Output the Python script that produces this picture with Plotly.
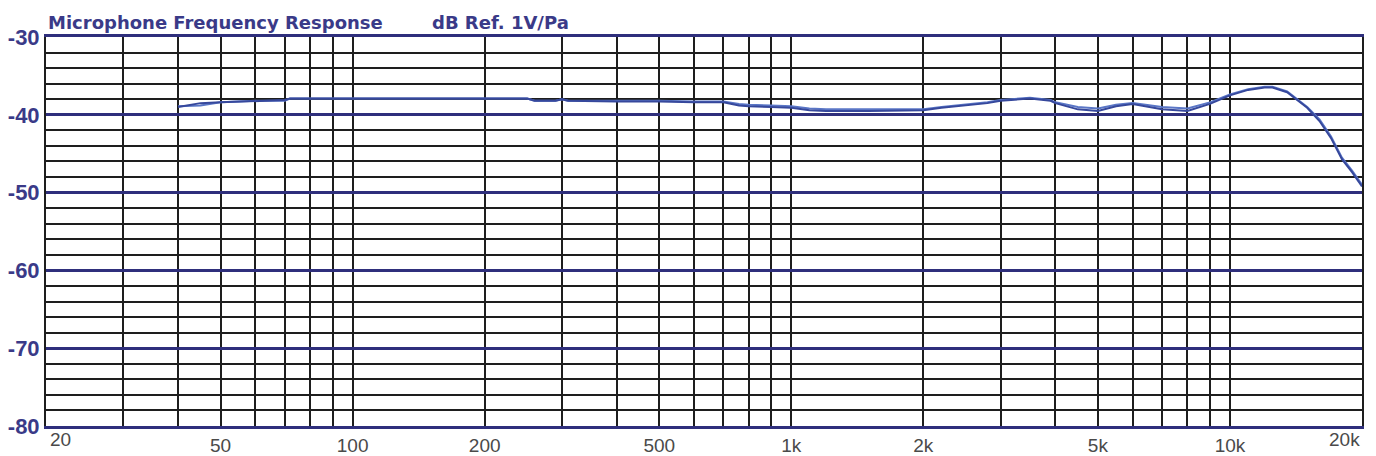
"""Microphone frequency response chart (log frequency axis, dB Ref. 1V/Pa)."""

import math

import plotly.graph_objects as go

# frequency points (Hz)
freq_hz = [
    40, 45, 50, 55, 60, 70, 72, 100, 150, 200, 250, 260, 290, 300, 310,
    400, 500, 600, 700, 760, 800, 900, 1000, 1100, 1200, 1500, 2000, 2200,
    2500, 2800, 3000, 3300, 3500, 3900, 4000, 4500, 5000, 5500, 6000, 7000,
    8000, 9000, 10000, 11000, 12000, 12500, 13500, 15000, 16000, 17000,
    18000, 19000, 20000,
]

# two overlapping measurement traces (dB)
resp_a_db = [
    -38.9, -38.8, -38.4, -38.3, -38.2, -38.2, -37.9, -37.9, -37.9, -37.9,
    -37.9, -38.2, -38.2, -38.0, -38.2, -38.2, -38.2, -38.3, -38.3, -38.6,
    -38.7, -38.8, -38.9, -39.2, -39.3, -39.3, -39.3, -39.0, -38.7, -38.4,
    -38.1, -37.9, -37.8, -38.1, -38.4, -39.0, -39.2, -38.7, -38.5, -39.0,
    -39.2, -38.4, -37.4, -36.7, -36.4, -36.4, -37.0, -39.0, -40.6, -42.8,
    -45.5, -47.2, -49.0,
]
resp_b_db = [
    -39.0, -38.5, -38.4, -38.3, -38.2, -38.1, -37.9, -37.9, -37.9, -37.9,
    -37.9, -38.2, -38.2, -38.0, -38.2, -38.3, -38.3, -38.4, -38.4, -38.8,
    -38.9, -39.0, -39.1, -39.4, -39.5, -39.5, -39.4, -39.1, -38.8, -38.5,
    -38.2, -38.0, -37.9, -38.2, -38.5, -39.3, -39.5, -38.9, -38.6, -39.3,
    -39.5, -38.6, -37.5, -36.8, -36.5, -36.5, -37.1, -39.1, -40.8, -43.0,
    -45.7, -47.4, -49.2,
]

# vertical grid positions and their labels
x_grid_hz = [
    20, 30, 40, 50, 60, 70, 80, 90,
    100, 200, 300, 400, 500, 600, 700, 800, 900,
    1000, 2000, 3000, 4000, 5000, 6000, 7000, 8000, 9000,
    10000, 20000,
]
x_labels = {50: "50", 100: "100", 200: "200", 500: "500", 1000: "1k",
            2000: "2k", 5000: "5k", 10000: "10k"}
x_edge_labels = [(20, "20", "left"), (20000, "20k", "right")]

y_major = [-80, -70, -60, -50, -40, -30]

NAVY = "#2f2f7c"
TEXT_NAVY = "#3a3a88"
GRID = "#1e1e1e"
XTICK_FONT = {"family": "Liberation Sans", "size": 19, "color": "#4a4a4a"}
TITLE_FONT = {"family": "DejaVu Sans", "size": 18, "color": TEXT_NAVY}

fig = go.Figure()

fig.add_trace(
    go.Scatter(
        x=freq_hz,
        y=resp_a_db,
        mode="lines",
        name="A",
        line={"color": "#5a76c6", "width": 2},
        hovertemplate="%{x:.0f} Hz<br>%{y:.1f} dB<extra></extra>",
    )
)
fig.add_trace(
    go.Scatter(
        x=freq_hz,
        y=resp_b_db,
        mode="lines",
        name="B",
        line={"color": "#36489c", "width": 2},
        hovertemplate="%{x:.0f} Hz<br>%{y:.1f} dB<extra></extra>",
    )
)

# page body has an 8px margin, so the figure is sized to end at the window edge
fig.update_layout(
    width=1368,
    height=448,
    margin={"l": 38, "r": 14, "t": 29, "b": 30, "pad": 0},
    paper_bgcolor="white",
    plot_bgcolor="white",
    showlegend=False,
)

fig.update_xaxes(
    type="log",
    range=[math.log10(20), math.log10(20000)],
    tickmode="array",
    tickvals=x_grid_hz,
    ticktext=[x_labels.get(v, "") for v in x_grid_hz],
    ticks="",
    ticklabelstandoff=0,
    tickfont=XTICK_FONT,
    automargin=False,
    showgrid=True,
    gridcolor=GRID,
    gridwidth=2,
    zeroline=False,
    showline=True,
    linecolor=NAVY,
    linewidth=3,
    mirror=True,
)

fig.update_yaxes(
    range=[-80, -30],
    tickmode="array",
    tickvals=y_major,
    ticktext=[str(v) for v in y_major],
    ticks="",
    ticklabelstandoff=0,
    tickfont={"family": "Liberation Sans", "size": 22, "color": TEXT_NAVY, "weight": "bold"},
    automargin=False,
    showgrid=True,
    gridcolor=NAVY,
    gridwidth=3,
    minor={"dtick": 2, "tick0": -80, "showgrid": True, "gridcolor": GRID, "gridwidth": 2},
    zeroline=False,
    showline=True,
    linecolor=GRID,
    linewidth=2,
    mirror=True,
)

for hz, text, anchor in x_edge_labels:
    fig.add_annotation(
        x=math.log10(hz),
        y=0,
        xref="x",
        yref="paper",
        text=text,
        showarrow=False,
        xanchor=anchor,
        yanchor="top",
        xshift=2 if anchor == "left" else 0,
        yshift=-1,
        font=XTICK_FONT,
    )

fig.add_annotation(
    x=0,
    y=1,
    xref="paper",
    yref="paper",
    text="<b>Microphone Frequency Response</b>",
    showarrow=False,
    xanchor="left",
    yanchor="bottom",
    yshift=2,
    font=TITLE_FONT,
)
fig.add_annotation(
    x=(430 - 46) / 1316,
    y=1,
    xref="paper",
    yref="paper",
    text="<b>dB Ref. 1V/Pa</b>",
    showarrow=False,
    xanchor="left",
    yanchor="bottom",
    yshift=2,
    font=TITLE_FONT,
)

fig.write_html("out.html")
